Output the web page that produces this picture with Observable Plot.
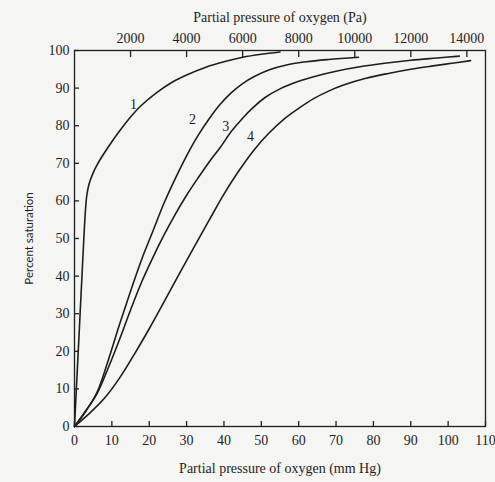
<!DOCTYPE html>
<html><head><meta charset="utf-8">
<script src="https://cdn.jsdelivr.net/npm/d3@7"></script>
<script src="https://cdn.jsdelivr.net/npm/@observablehq/plot@0.6"></script>
<style>
html,body{margin:0;padding:0;background:#f5f5f3;}
#chart svg{display:block;}
</style></head><body><div id="chart"></div>
<script>
// Oxygen dissociation curves: partial pressure (mm Hg) vs percent saturation
const curve1Mm  = [0, 0.5, 1, 1.5, 2, 2.5, 2.9, 3.3, 3.9, 4.8, 6, 7.5, 9.5, 12, 15, 18, 22, 26, 30, 35, 40, 45, 50, 55];
const curve1Sat = [0, 10, 20, 30, 40, 50, 57, 61.5, 64.5, 67, 69.5, 72, 75, 78.5, 82.3, 85.5, 88.8, 91.5, 93.5, 95.5, 97, 98.2, 99, 99.6];

const curve2Mm  = [0, 3, 6, 9, 12, 15, 18, 21, 24, 27, 30, 33, 36, 39, 42, 45, 48, 52, 57, 62, 68, 76];
const curve2Sat = [0, 4, 9, 17.5, 27, 36, 44.5, 52, 59.5, 66, 72, 77.3, 81.8, 85.7, 88.8, 91.2, 93, 94.8, 96.2, 97, 97.6, 98.2];

const curve3Mm  = [0, 3, 6, 9, 12, 15, 18, 21, 24, 27, 30, 33, 36, 39, 42, 45, 48, 51, 55, 60, 65, 70, 76, 83, 90, 97, 103];
const curve3Sat = [0, 4.2, 8.7, 15.5, 23, 31, 38.5, 45, 51, 56.5, 61.5, 66, 70.3, 74.2, 78.5, 82, 85, 87.5, 89.8, 91.8, 93.3, 94.5, 95.6, 96.6, 97.4, 98, 98.5];

const curve4Mm  = [0, 4, 8, 12, 16, 20, 24, 28, 32, 36, 40, 44, 48, 52, 56, 60, 64, 68, 72, 78, 84, 90, 96, 101, 106];
const curve4Sat = [0, 3.5, 7.5, 12.8, 19.2, 26, 33.2, 40.5, 47.7, 54.8, 61.8, 68, 73.5, 78, 81.7, 84.6, 87.2, 89.2, 90.8, 92.6, 93.9, 95, 95.9, 96.6, 97.3];

const curveNames = ["1", "2", "3", "4"];
const labelMm  = [15.8, 31.6, 40.5, 47.1];
const labelSat = [85.7, 81.6, 79.9, 77.2];

const mmTicks  = [0, 10, 20, 30, 40, 50, 60, 70, 80, 90, 100, 110];
const paTicks  = [2000, 4000, 6000, 8000, 10000, 12000, 14000];
const satTicks = [0, 10, 20, 30, 40, 50, 60, 70, 80, 90, 100];

const PA_PER_MMHG = 133.322;

const series = [
  [curve1Mm, curve1Sat], [curve2Mm, curve2Sat], [curve3Mm, curve3Sat], [curve4Mm, curve4Sat]
];
const rows = series.flatMap(([xs, ys], i) => xs.map((x, j) => ({curve: curveNames[i], mm: x, sat: ys[j]})));
const labels = curveNames.map((n, i) => ({name: n, mm: labelMm[i], sat: labelSat[i]}));
const paPositions = paTicks.map(p => p / PA_PER_MMHG);

const ink = "#1e1e1e";
const chart = Plot.plot({
  width: 495,
  height: 482,
  marginLeft: 74,
  marginRight: 10,
  marginTop: 50,
  marginBottom: 56,
  x: {domain: [0, 110]},
  y: {domain: [0, 100]},
  style: {fontFamily: "'Liberation Serif', serif", fontSize: "14px", color: ink, background: "transparent"},
  marks: [
    Plot.frame({stroke: ink, strokeWidth: 1.3}),
    // bottom axis (inward ticks)
    Plot.axisX(mmTicks, {anchor: "bottom", tickSize: -5, tickPadding: 14, strokeWidth: 1.3,
      label: "Partial pressure of oxygen (mm Hg)", labelAnchor: "center", labelArrow: "none", labelOffset: 46}),
    // top axis in Pa (inward ticks)
    Plot.axisX(paPositions, {anchor: "top", tickSize: -6, tickPadding: 14, strokeWidth: 1.3,
      tickFormat: d => String(Math.round(d * PA_PER_MMHG / 100) * 100),
      label: "Partial pressure of oxygen (Pa)", labelAnchor: "center", labelArrow: "none", labelOffset: 38}),
    // left axis (inward ticks)
    Plot.axisY(satTicks, {anchor: "left", tickSize: -5, tickPadding: 10, strokeWidth: 1.3, label: null}),
    Plot.axisY(satTicks, {anchor: "left", tickSize: 0, tickFormat: () => "",
      label: "Percent saturation", labelAnchor: "center", labelArrow: "none", labelOffset: 50,
      fontFamily: "Lato, sans-serif", fontSize: 11.5}),
    // curves
    Plot.line(rows, {x: "mm", y: "sat", z: "curve", stroke: ink, strokeWidth: 1.6, curve: "catmull-rom"}),
    Plot.text(labels, {x: "mm", y: "sat", text: "name", fill: ink, fontSize: 14})
  ]
});
document.getElementById("chart").appendChild(chart);
</script>
</body></html>
